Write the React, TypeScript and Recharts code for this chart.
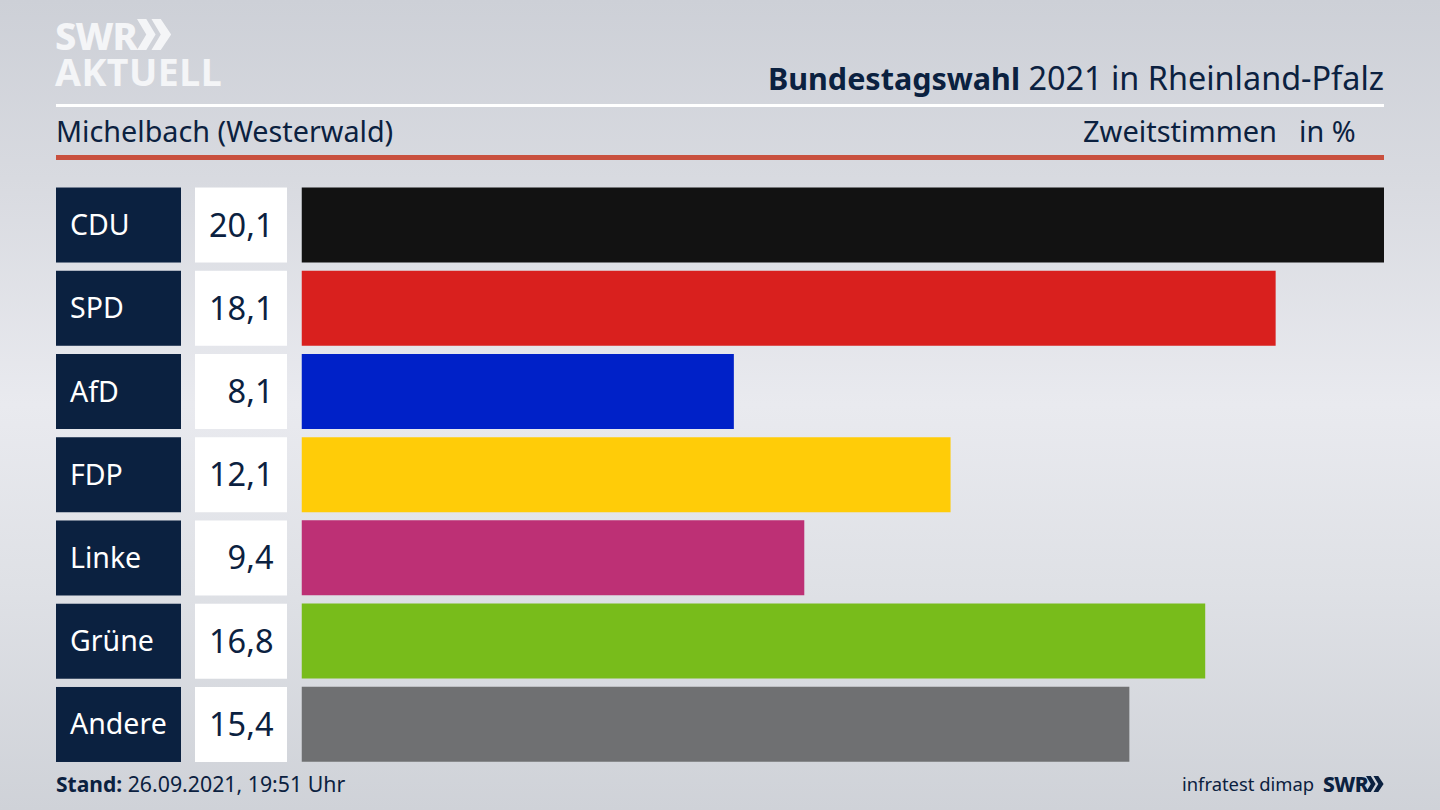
import React from 'react';
import { BarChart, Bar, Cell, XAxis, YAxis } from 'recharts';

const parties = ['CDU', 'SPD', 'AfD', 'FDP', 'Linke', 'Grüne', 'Andere'];
const shares = [20.1, 18.1, 8.1, 12.1, 9.4, 16.8, 15.4];
const partyColors = ['#121212', '#d9201e', '#0021c8', '#ffcc08', '#bd3075', '#78bc1b', '#6f7072'];

const data = parties.map((party, i) => ({ party, share: shares[i] }));

const NAVY = '#0b2140';
const FONT = '"Noto Sans", sans-serif';

const PartyTick = ({ y, payload, index }: any) => {
  const top = y - 37.5;
  return (
    <g>
      <rect x={56} y={top} width={125} height={75} fill={NAVY} />
      <rect x={195} y={top} width={92} height={75} fill="#ffffff" />
      <text x={70} y={y + 10} fill="#ffffff" fontSize={28.5} fontFamily={FONT}>{payload.value}</text>
      <text x={273.5} y={y + 11.5} fill={NAVY} fontSize={32.5} fontFamily={FONT} textAnchor="end">
        {shares[index].toFixed(1).replace('.', ',')}
      </text>
    </g>
  );
};

const Label = ({ style, children }: any) => (
  <div style={{ position: 'absolute', whiteSpace: 'nowrap', color: NAVY, fontFamily: FONT, ...style }}>{children}</div>
);

const Chevrons = ({ x, y, h, color }: any) => (
  <svg style={{ position: 'absolute', left: x, top: y }} width={h * 1.1} height={h} viewBox="0 0 33 30">
    <path d="M0 0h9l9 15-9 15H0l9-15zM14 0h9l10 15-10 15h-9l9-15z" fill={color} />
  </svg>
);

export default function App() {
  return (
    <div
      style={{
        position: 'absolute', left: 0, top: 0, width: 1440, height: 810, overflow: 'hidden',
        background: 'linear-gradient(180deg, #cdd0d7 0%, #d8dae0 22%, #e9eaef 50%, #dfe1e6 72%, #cfd2d8 100%)',
      }}
    >
      <Label style={{ left: 55, top: 10, fontSize: 38, lineHeight: '50px', fontWeight: 800, color: '#f4f5f7', letterSpacing: -1 }}>SWR</Label>
      <Chevrons x={137} y={19} h={31} color="#f4f5f7" />
      <Label style={{ left: 55, top: 48, fontSize: 37.5, lineHeight: '48px', fontWeight: 700, color: '#f4f5f7', letterSpacing: 0.5 }}>AKTUELL</Label>

      <Label style={{ right: 56, top: 55, fontSize: 32.4, lineHeight: '44px' }}>
        <b style={{ fontSize: 30.5 }}>Bundestagswahl</b> 2021 in Rheinland-Pfalz
      </Label>
      <div style={{ position: 'absolute', left: 56, top: 104, width: 1328, height: 3, background: '#ffffff' }} />
      <Label style={{ left: 56, top: 109, fontSize: 28.75, lineHeight: '44px' }}>Michelbach (Westerwald)</Label>
      <Label style={{ left: 1083, top: 109, fontSize: 29, lineHeight: '44px' }}>Zweitstimmen</Label>
      <Label style={{ left: 1299, top: 109, fontSize: 28.75, lineHeight: '44px' }}>in %</Label>
      <div style={{ position: 'absolute', left: 56, top: 155, width: 1328, height: 5, background: '#c9503e' }} />

      <div style={{ position: 'absolute', left: 0, top: 0 }}>
        <BarChart
          width={1440}
          height={810}
          data={data}
          layout="vertical"
          margin={{ top: 183.4, right: 56, bottom: 43.9, left: 0 }}
        >
          <XAxis type="number" hide domain={[0.12, 20.1]} allowDataOverflow />
          <YAxis
            type="category"
            dataKey="party"
            width={301.5}
            axisLine={false}
            tickLine={false}
            interval={0}
            tick={<PartyTick />}
          />
          <Bar dataKey="share" barSize={75} isAnimationActive={false}>
            {parties.map((party, i) => (
              <Cell key={party} fill={partyColors[i]} />
            ))}
          </Bar>
        </BarChart>
      </div>

      <Label style={{ left: 56, top: 769, fontSize: 21.3, lineHeight: '30px' }}>
        <b style={{ fontSize: 21 }}>Stand:</b> 26.09.2021, 19:51 Uhr
      </Label>
      <Label style={{ left: 1182, top: 769, fontSize: 18.4, lineHeight: '30px' }}>infratest dimap</Label>
      <Label style={{ left: 1323, top: 769, fontSize: 21, lineHeight: '30px', fontWeight: 800, letterSpacing: -0.5 }}>SWR</Label>
      <Chevrons x={1366} y={776} h={16} color={NAVY} />
    </div>
  );
}
